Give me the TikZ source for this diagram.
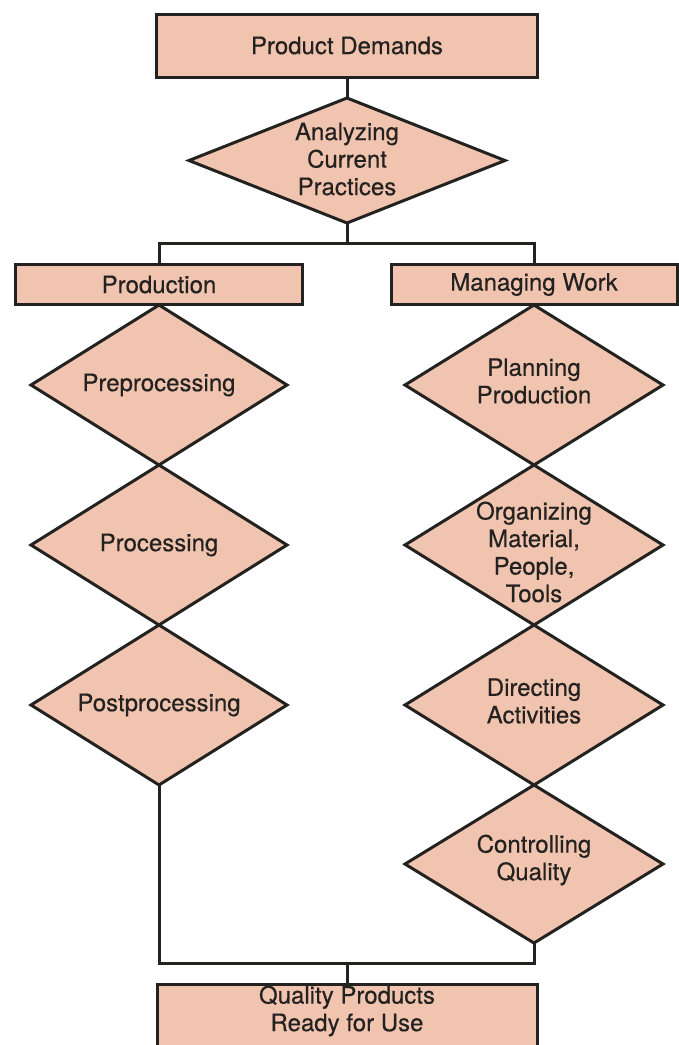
\documentclass[tikz,border=0pt]{standalone}
\usepackage{fontspec}
\setmainfont{TeX Gyre Heros}[FakeBold=0.4]
\usetikzlibrary{shapes.geometric}
\definecolor{peach}{RGB}{240,196,175}
\definecolor{ink}{RGB}{36,34,32}
\tikzset{
  box/.style={draw=ink, fill=peach, line width=3pt, rectangle, inner sep=0pt, outer sep=0pt},
  dia/.style={draw=ink, fill=peach, line width=3pt, diamond, inner sep=0pt, outer sep=0pt,
              minimum width=256pt, minimum height=160pt},
  lbl/.style={text=ink, align=center, font=\fontsize{24}{27.5}\selectfont, inner sep=0pt},
  wire/.style={draw=ink, line width=3pt}
}
\begin{document}
\begin{tikzpicture}[x=1pt,y=-1pt]
\useasboundingbox[fill=white] (0,0) rectangle (678,1045);
% top
\node[box, minimum width=381pt, minimum height=63pt] (pd) at (347,45.5) {};
\node[lbl] (pdt) at (pd) {Product Demands};
\node[dia, minimum width=316pt, minimum height=125pt] (acp) at (347,160.5) {};
\node[lbl] (acpt) at (347,159) {Analyzing\\Current\\Practices};
\draw[wire] (pd.south) -- (acp.north);
% branch boxes
\coordinate (bar) at (347,243);
\node[box, minimum width=287pt, minimum height=40pt] (prod) at (159,284.5) {};
\node[lbl] (prodt) at (prod) {Production};
\node[box, minimum width=286pt, minimum height=40pt] (mw) at (534,284.5) {};
\node[lbl] (mwt) at (mw) {Managing Work};
\draw[wire] (acp.south) -- (bar);
\draw[wire] (prod.north) -- (prod.north |- bar) -- (mw.north |- bar) -- (mw.north);
% left column
\node[dia] (pre) at (159,385) {};
\node[lbl] (pret) at (pre) {Preprocessing};
\node[dia] (proc) at (159,545) {};
\node[lbl] (proct) at (proc) {Processing};
\node[dia] (post) at (159,705) {};
\node[lbl] (postt) at (post) {Postprocessing};
% right column
\node[dia, minimum width=258pt] (plan) at (534,385) {};
\node[lbl] (plant) at (534,381) {Planning\\Production};
\node[dia, minimum width=258pt] (org) at (534,545) {};
\node[lbl] (orgt) at (534,552) {Organizing\\Material,\\People,\\Tools};
\node[dia, minimum width=258pt] (dir) at (534,705) {};
\node[lbl] (dirt) at (534,701) {Directing\\Activities};
\node[dia, minimum width=258pt, minimum height=158pt] (ctl) at (534,864) {};
\node[lbl] (ctlt) at (534,860) {Controlling\\Quality};
% bottom
\coordinate (bbar) at (347,963);
\node[box, anchor=north, minimum width=380pt, minimum height=90pt] (qp) at (347,984) {};
\node[lbl] (qpt) at (347,1011) {Quality Products\\Ready for Use};
\draw[wire] (post.south) -- (post.south |- bbar) -- (ctl.south |- bbar) -- (ctl.south);
\draw[wire] (bbar) -- (qp.north);
\end{tikzpicture}
\end{document}
